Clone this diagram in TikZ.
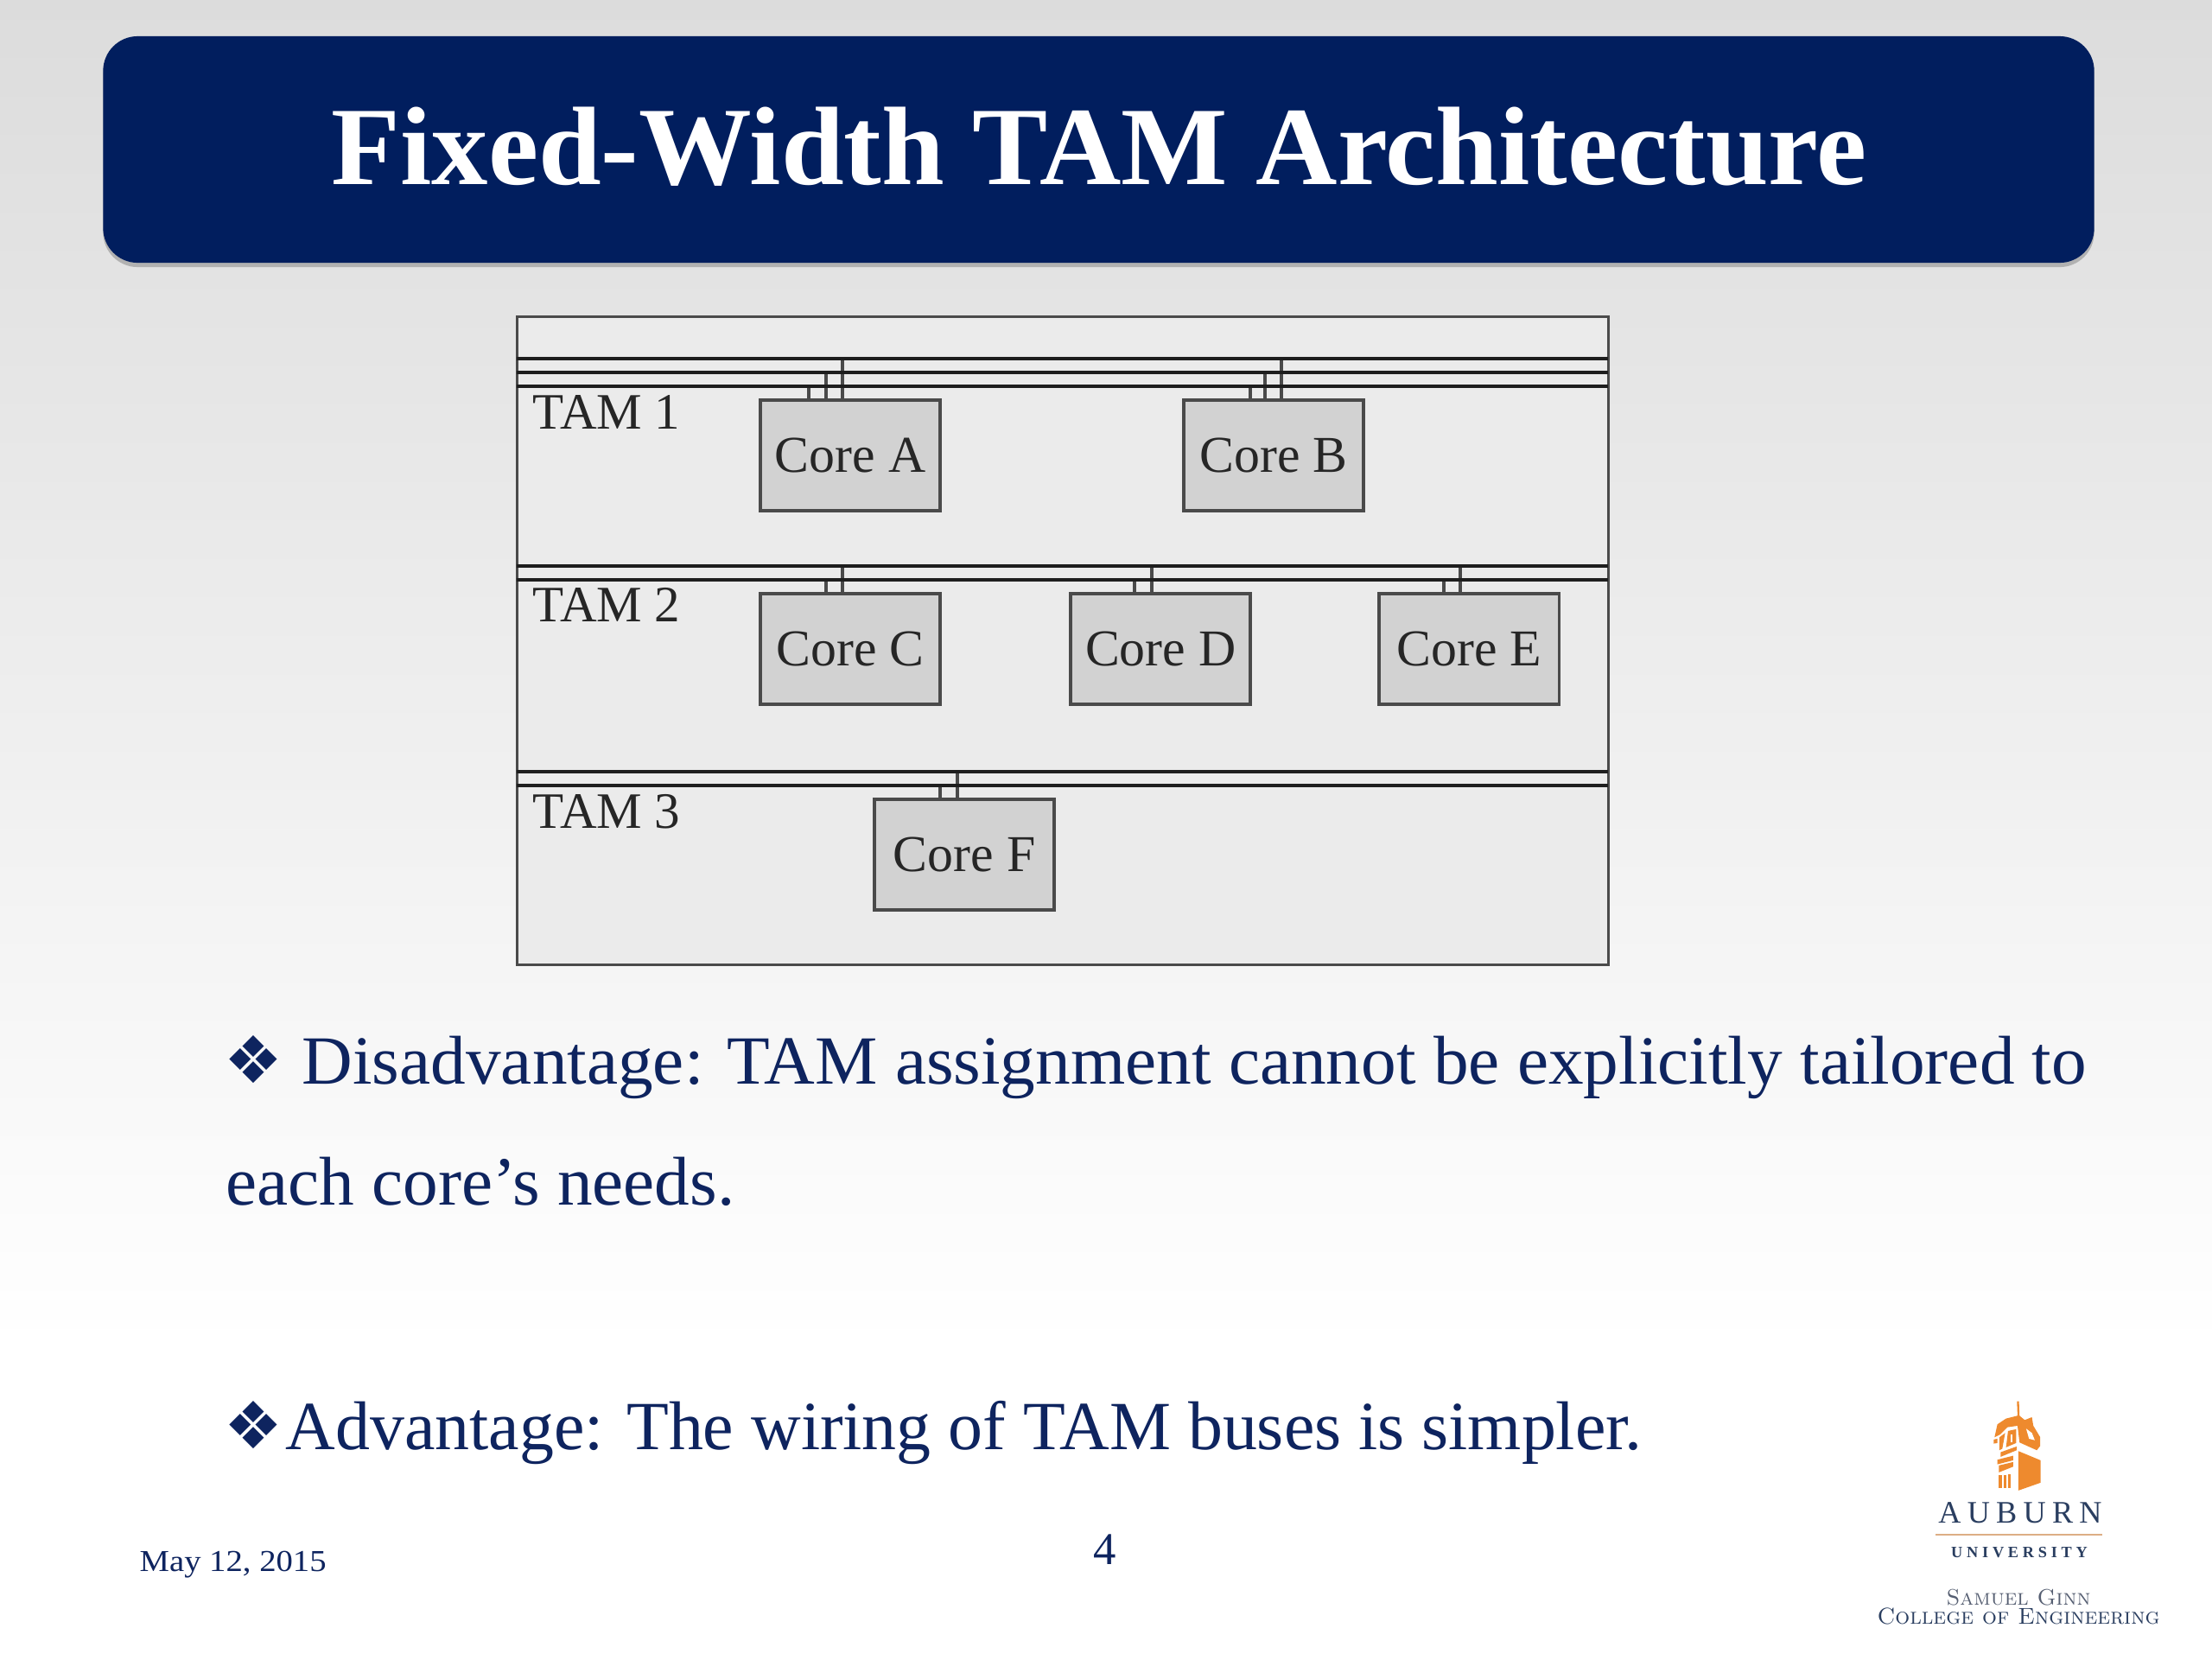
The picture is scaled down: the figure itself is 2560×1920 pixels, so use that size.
\documentclass[tikz,border=0pt]{standalone}
\usepackage{fontspec}
\usepackage{xcolor}
\usepackage{tikz}
\usetikzlibrary{positioning,shadows}
\newfontfamily\bodyfont{Liberation Serif}
\newfontfamily\wideboldfont[FakeStretch=1.013]{Liberation Serif}
\newfontfamily\widefont[FakeStretch=1.018]{Liberation Serif}
\newfontfamily\footfont[FakeStretch=1.1]{Liberation Serif}
\newfontfamily\dingfont{DejaVu Sans}
\newfontfamily\logofont{Liberation Serif}
\definecolor{TitleNavy}{HTML}{011E5E}
\definecolor{InkNavy}{HTML}{0E245F}
\definecolor{SlideGray}{HTML}{DCDCDC}
\definecolor{PanelGray}{HTML}{EBEBEB}
\definecolor{CoreGray}{HTML}{D2D2D2}
\definecolor{EdgeGray}{HTML}{4A4A4A}
\definecolor{BusBlack}{HTML}{1E1E1E}
\definecolor{TowerOrange}{HTML}{EE8A2E}
\definecolor{RuleTan}{HTML}{DDAE85}
\definecolor{LogoBlue}{HTML}{2A3E60}
\definecolor{LogoGray}{HTML}{565F72}
\tikzset{
  titlebar/.style={fill=TitleNavy,rounded corners=.4cm,minimum width=23.03cm,minimum height=2.62cm,
              inner sep=0pt,drop shadow={shadow xshift=0cm,shadow yshift=-.05cm,opacity=.22,fill=black}},
  titletext/.style={anchor=base,inner sep=0pt,text=white,font=\wideboldfont\bfseries\fontsize{36.7}{40}\selectfont},
  panel/.style={draw=EdgeGray,fill=PanelGray,line width=.9pt,minimum width=12.63cm,minimum height=7.49cm,inner sep=0pt},
  corebox/.style={draw=EdgeGray,fill=CoreGray,line width=1.1pt,minimum width=2.08cm,minimum height=1.28cm,
              inner sep=0pt,outer sep=0pt,font=\bodyfont\fontsize{17}{20}\selectfont,text=black!85},
  tamlabel/.style={anchor=base west,inner sep=0pt,font=\bodyfont\fontsize{16.8}{20}\selectfont,text=black!85},
  bus/.style={draw=BusBlack,line width=1.4pt},
  stub/.style={draw=EdgeGray,line width=1.1pt},
  bodytext/.style={anchor=base west,inner sep=0pt,text=InkNavy,font=\widefont\fontsize{22.7}{26}\selectfont},
  bullet/.style={anchor=base west,inner sep=0pt,text=InkNavy,font=\dingfont\fontsize{21.5}{24}\selectfont},
  foot/.style={anchor=base west,inner sep=0pt,text=InkNavy,font=\footfont\fontsize{10}{12}\selectfont},
  towerpart/.style={fill=TowerOrange,draw=none},
  logotext/.style={anchor=base,inner sep=0pt,text=LogoBlue}
}
\begin{document}
\begin{tikzpicture}[x=.01cm,y=-.01cm]
  \useasboundingbox (0,0) rectangle (2560,1920);
  \shade[top color=SlideGray,bottom color=white] (0,0) rectangle (2560,1560);
  \fill[white] (0,1560) rectangle (2560,1920);

  \node[titlebar] (titlebar) at (1271.5,173) {};
  \node[titletext] (titletext) at (1272,213) {Fixed-Width TAM Architecture};

  \node[panel] (tampanel) at (1230,741.5) {};
  \coordinate (busOneAw) at (598,415);
  \coordinate (busOneAe) at (1861,415);
  \coordinate (busOneBw) at (598,431);
  \coordinate (busOneBe) at (1861,431);
  \coordinate (busOneCw) at (598,447);
  \coordinate (busOneCe) at (1861,447);
  \coordinate (busTwoAw) at (598,655);
  \coordinate (busTwoAe) at (1861,655);
  \coordinate (busTwoBw) at (598,671);
  \coordinate (busTwoBe) at (1861,671);
  \coordinate (busThreeAw) at (598,893);
  \coordinate (busThreeAe) at (1861,893);
  \coordinate (busThreeBw) at (598,909);
  \coordinate (busThreeBe) at (1861,909);

  \node[corebox] (coreA) at (984,527) {Core A};
  \node[corebox,right=2.82cm of coreA] (coreB) {Core B};
  \node[corebox,below=.96cm of coreA] (coreC) {Core C};
  \node[corebox,right=1.51cm of coreC] (coreD) {Core D};
  \node[corebox,right=1.49cm of coreD] (coreE) {Core E};
  \node[corebox,below=1.10cm of coreC,xshift=1.32cm] (coreF) {Core F};

  \node[tamlabel] (tamOne) at (616,496) {TAM 1};
  \node[tamlabel] (tamTwo) at (616,719) {TAM 2};
  \node[tamlabel] (tamThree) at (616,958) {TAM 3};

  \draw[stub] ([xshift=-.48cm]coreA.north) -- ([xshift=-.48cm]coreA.north |- busOneCw);
  \draw[stub] ([xshift=-.28cm]coreA.north) -- ([xshift=-.28cm]coreA.north |- busOneBw);
  \draw[stub] ([xshift=-.09cm]coreA.north) -- ([xshift=-.09cm]coreA.north |- busOneAw);
  \draw[stub] ([xshift=-.27cm]coreB.north) -- ([xshift=-.27cm]coreB.north |- busOneCw);
  \draw[stub] ([xshift=-.10cm]coreB.north) -- ([xshift=-.10cm]coreB.north |- busOneBw);
  \draw[stub] ([xshift=.09cm]coreB.north) -- ([xshift=.09cm]coreB.north |- busOneAw);
  \draw[stub] ([xshift=-.28cm]coreC.north) -- ([xshift=-.28cm]coreC.north |- busTwoBw);
  \draw[stub] ([xshift=-.09cm]coreC.north) -- ([xshift=-.09cm]coreC.north |- busTwoAw);
  \draw[stub] ([xshift=-.30cm]coreD.north) -- ([xshift=-.30cm]coreD.north |- busTwoBw);
  \draw[stub] ([xshift=-.10cm]coreD.north) -- ([xshift=-.10cm]coreD.north |- busTwoAw);
  \draw[stub] ([xshift=-.29cm]coreE.north) -- ([xshift=-.29cm]coreE.north |- busTwoBw);
  \draw[stub] ([xshift=-.10cm]coreE.north) -- ([xshift=-.10cm]coreE.north |- busTwoAw);
  \draw[stub] ([xshift=-.28cm]coreF.north) -- ([xshift=-.28cm]coreF.north |- busThreeBw);
  \draw[stub] ([xshift=-.08cm]coreF.north) -- ([xshift=-.08cm]coreF.north |- busThreeAw);

  \draw[bus] (busOneAw) -- (busOneAe);
  \draw[bus] (busOneBw) -- (busOneBe);
  \draw[bus] (busOneCw) -- (busOneCe);
  \draw[bus] (busTwoAw) -- (busTwoAe);
  \draw[bus] (busTwoBw) -- (busTwoBe);
  \draw[bus] (busThreeAw) -- (busThreeAe);
  \draw[bus] (busThreeBw) -- (busThreeBe);

  \node[bullet] (bulletOne) at (259,1253) {❖};
  \node[bodytext] (disadvOne) at (349,1254) {Disadvantage: TAM assignment cannot be explicitly tailored to};
  \node[bodytext] (disadvTwo) at (261,1394) {each core’s needs.};
  \node[bullet] (bulletTwo) at (259,1676) {❖};
  \node[bodytext,font=\bodyfont\fontsize{22.7}{26}\selectfont] (advOne) at (330,1677) {Advantage: The wiring of TAM buses is simpler.};

  \node[foot] (slidedate) at (161,1818) {May 12, 2015};
  \node[foot,anchor=base,font=\bodyfont\fontsize{15}{18}\selectfont] (slidenum) at (1279,1810) {4};

  \begin{scope}[shift={(2280,1610)},x=.00333cm,y=-.00333cm]
    \fill[towerpart] (168,208) -- (245,240) -- (245,318) -- (168,345) -- cycle;
    \fill[towerpart] (98,292) rectangle (112,335);
    \fill[towerpart] (118,290) rectangle (127,335);
    \fill[towerpart] (131,288) rectangle (140,335);
    \fill[towerpart] (95,238) -- (150,224) -- (150,240) -- (95,254) -- cycle;
    \fill[towerpart] (100,258) -- (150,246) -- (150,262) -- (100,282) -- cycle;
    \fill[towerpart] (106,212) -- (162,192) -- (162,205) -- (106,228) -- cycle;
    \fill[towerpart] (163,35) -- (170,35) -- (172,85) -- (190,100) -- (215,90) -- (220,120) -- (244,160) -- (244,190)
      -- (232,205) -- (172,178) -- (165,120) -- (130,125) -- (105,150) -- (85,160) -- (95,115) -- (125,95) -- (165,85) -- cycle;
    \fill[towerpart] (82,168) -- (95,165) -- (95,180) -- (82,182) -- cycle;
    \fill[towerpart] (102,160) -- (122,145) -- (112,200) -- (102,205) -- cycle;
    \fill[towerpart] (132,138) -- (160,132) -- (160,180) -- (125,195) -- cycle;
    \fill[white] (140,150) rectangle (148,178);
    \fill[white] (195,130) -- (215,145) -- (225,170) -- (205,165) -- cycle;
  \end{scope}

  \node[logotext,font=\logofont\addfontfeature{LetterSpace=20}\fontsize{10.3}{12}\selectfont] (logoAuburn) at (2338,1762) {AUBURN};
  \coordinate (ruleWest) at (2240,1776);
  \coordinate (ruleEast) at (2433,1776);
  \draw[RuleTan,line width=.7pt] (ruleWest) -- (ruleEast);
  \node[logotext,font=\logofont\bfseries\addfontfeature{LetterSpace=26}\fontsize{5.2}{7}\selectfont] (logoUniversity) at (2337,1802) {UNIVERSITY};
  \node[logotext,text=LogoGray,font=\scshape\fontsize{7.4}{8}\selectfont] (logoGinn) at (2336,1857) {Samuel Ginn};
  \node[logotext,font=\scshape\fontsize{7.55}{8}\selectfont] (logoCollege) at (2336,1879) {College of Engineering};
\end{tikzpicture}
\end{document}
